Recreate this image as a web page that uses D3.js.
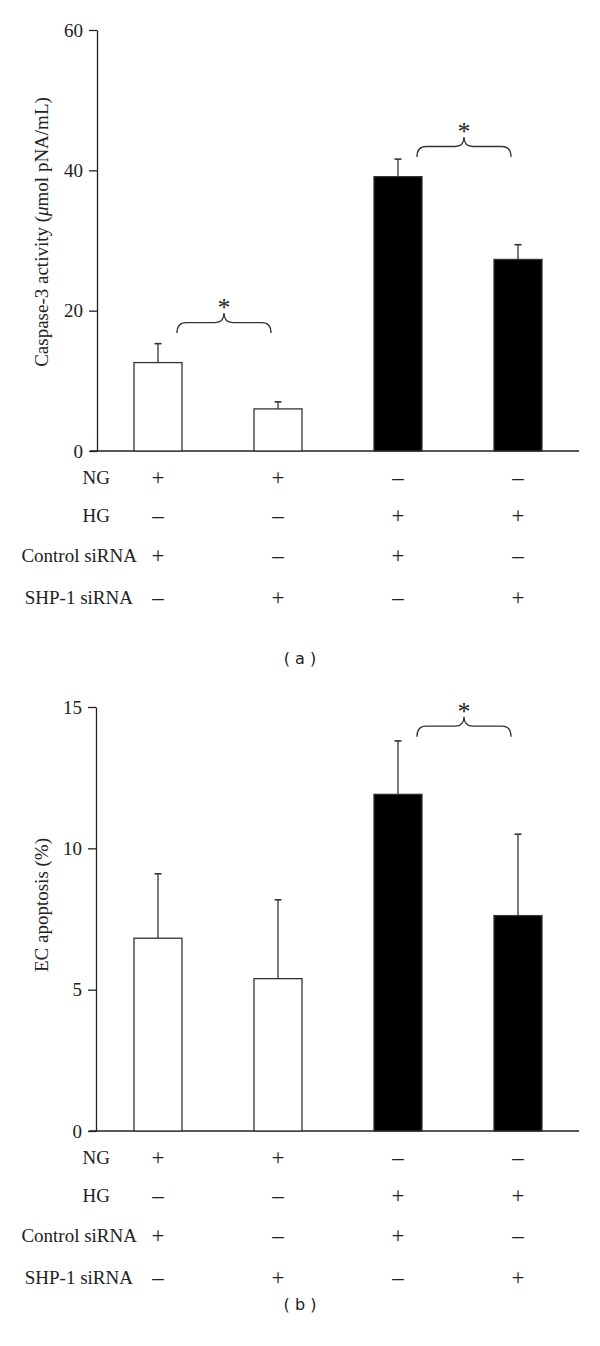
<!DOCTYPE html>
<html>
<head>
<meta charset="utf-8">
<script src="https://cdn.jsdelivr.net/npm/d3@7"></script>
<style>
  body { margin: 0; background: #fff; }
  svg { display: block; }
</style>
</head>
<body>
<svg id="chart" width="600" height="1346"></svg>
<script>
// ---------- DATA ----------
const groups = ["NG+Control siRNA", "NG+SHP-1 siRNA", "HG+Control siRNA", "HG+SHP-1 siRNA"];
const glucose = ["NG", "NG", "HG", "HG"];

const caspaseMean = [12.6, 6.0, 39.1, 27.3];
const caspaseErr  = [15.3, 7.0, 41.6, 29.4];   // top of error bar
const caspaseTicks = [0, 20, 40, 60];

const apoptosisMean = [6.82, 5.39, 11.91, 7.62];
const apoptosisErr  = [9.1, 8.18, 13.8, 10.5];
const apoptosisTicks = [0, 5, 10, 15];

const rowLabels = ["NG", "HG", "Control siRNA", "SHP-1 siRNA"];
const rowSigns = [
  ["+", "+", "–", "–"],
  ["–", "–", "+", "+"],
  ["+", "–", "+", "–"],
  ["–", "+", "–", "+"]
];

// significance brackets: [fromGroup, toGroup, level (data units)]
const caspaseBrackets = [[0, 1, 16.8], [2, 3, 41.9]];
const apoptosisBrackets = [[2, 3, 13.95]];

// ---------- DRAW ----------
const svg = d3.select("#chart");
const serif = "'Liberation Serif', 'Times New Roman', serif";
const ink = "#222";

const x = d3.scalePoint().domain(d3.range(groups.length)).range([158, 518]);
const barW = 48;

function panel(opt) {
  const g = svg.append("g");
  const y = d3.scaleLinear().domain([0, opt.max]).range([opt.y0, opt.yTop]);

  // y axis
  const ax = g.append("g")
    .attr("transform", `translate(${opt.axisX},0)`)
    .call(d3.axisLeft(y).tickValues(opt.ticks).tickSize(8).tickSizeOuter(0).tickPadding(6));
  ax.select(".domain").attr("stroke", ink).attr("stroke-width", 1.3);
  ax.selectAll(".tick line").attr("stroke", ink).attr("stroke-width", 1.3);
  ax.selectAll(".tick text").attr("font-family", serif).attr("font-size", 19).attr("fill", ink);

  // baseline
  g.append("line").attr("x1", opt.axisX - 7).attr("x2", 579)
    .attr("y1", y(0)).attr("y2", y(0)).attr("stroke", ink).attr("stroke-width", 1.3);

  // y title
  const t = g.append("text")
    .attr("transform", `translate(${opt.titleX},${opt.titleY}) rotate(-90)`)
    .attr("text-anchor", "middle")
    .attr("font-family", serif).attr("font-size", 19).attr("fill", ink);
  opt.title(t);

  // error bars
  const eb = g.selectAll(".eb").data(opt.mean).join("g");
  eb.append("line")
    .attr("x1", (d, i) => x(i)).attr("x2", (d, i) => x(i))
    .attr("y1", d => y(d)).attr("y2", (d, i) => y(opt.err[i]))
    .attr("stroke", "#333").attr("stroke-width", 1.3);
  eb.append("line")
    .attr("x1", (d, i) => x(i) - 3.5).attr("x2", (d, i) => x(i) + 3.5)
    .attr("y1", (d, i) => y(opt.err[i])).attr("y2", (d, i) => y(opt.err[i]))
    .attr("stroke", "#333").attr("stroke-width", 1.6);

  // bars
  g.selectAll(".bar").data(opt.mean).join("rect")
    .attr("x", (d, i) => x(i) - barW / 2)
    .attr("width", barW)
    .attr("y", d => y(d))
    .attr("height", d => y(0) - y(d))
    .attr("fill", (d, i) => glucose[i] === "HG" ? "#000" : "#fff")
    .attr("stroke", "#333").attr("stroke-width", 1.3);

  // brackets
  opt.brackets.forEach(([a, b, lvl]) => {
    const x1 = x(a) + 19, x2 = x(b) - 7, xc = (x1 + x2) / 2;
    const yb = y(lvl), yh = yb - 10.5, yp = yb - 20, r = 9;
    const p = d3.path();
    p.moveTo(x1, yb);
    p.quadraticCurveTo(x1, yh, x1 + r, yh);
    p.lineTo(xc - r, yh);
    p.quadraticCurveTo(xc, yh, xc, yp);
    p.quadraticCurveTo(xc, yh, xc + r, yh);
    p.lineTo(x2 - r, yh);
    p.quadraticCurveTo(x2, yh, x2, yb);
    g.append("path").attr("d", p.toString()).attr("fill", "none")
      .attr("stroke", "#333").attr("stroke-width", 1.3);
    g.append("text").attr("x", xc).attr("y", yp + 3)
      .attr("text-anchor", "middle").attr("font-family", serif)
      .attr("font-size", 26).attr("fill", ink).text("*");
  });

  // condition table
  const rowOff = [27, 65, 105, 147];
  const labelEnd = [110, 110, 137, 133];
  rowLabels.forEach((lab, r) => {
    const cy = y(0) + rowOff[r];
    g.append("text").attr("x", labelEnd[r]).attr("y", cy + 6)
      .attr("text-anchor", "end").attr("font-family", serif)
      .attr("font-size", 19).attr("fill", ink).text(lab);
    g.selectAll(null).data(rowSigns[r]).join("text")
      .attr("x", (d, i) => x(i)).attr("y", cy + 7)
      .attr("text-anchor", "middle").attr("font-family", serif)
      .attr("font-size", 23).attr("fill", ink).text(d => d);
  });

  // caption
  g.append("text").attr("x", opt.capX).attr("y", opt.capY)
    .attr("text-anchor", "middle")
    .attr("font-family", "'DejaVu Sans', Verdana, sans-serif")
    .attr("font-size", 16).attr("fill", ink).attr("xml:space", "preserve")
    .text(opt.caption);
}

panel({
  mean: caspaseMean, err: caspaseErr, ticks: caspaseTicks, max: 60,
  y0: 451, yTop: 30, axisX: 97, titleX: 48, titleY: 232,
  title: t => {
    t.append("tspan").text("Caspase-3 activity (");
    t.append("tspan").attr("font-style", "italic").text("μ");
    t.append("tspan").text("mol pNA/mL)");
  },
  brackets: caspaseBrackets, caption: "( a )", capX: 300, capY: 664
});

panel({
  mean: apoptosisMean, err: apoptosisErr, ticks: apoptosisTicks, max: 15,
  y0: 1131, yTop: 707, axisX: 96, titleX: 48, titleY: 905,
  title: t => t.text("EC apoptosis (%)"),
  brackets: apoptosisBrackets, caption: "( b )", capX: 300, capY: 1310
});
</script>
</body>
</html>
